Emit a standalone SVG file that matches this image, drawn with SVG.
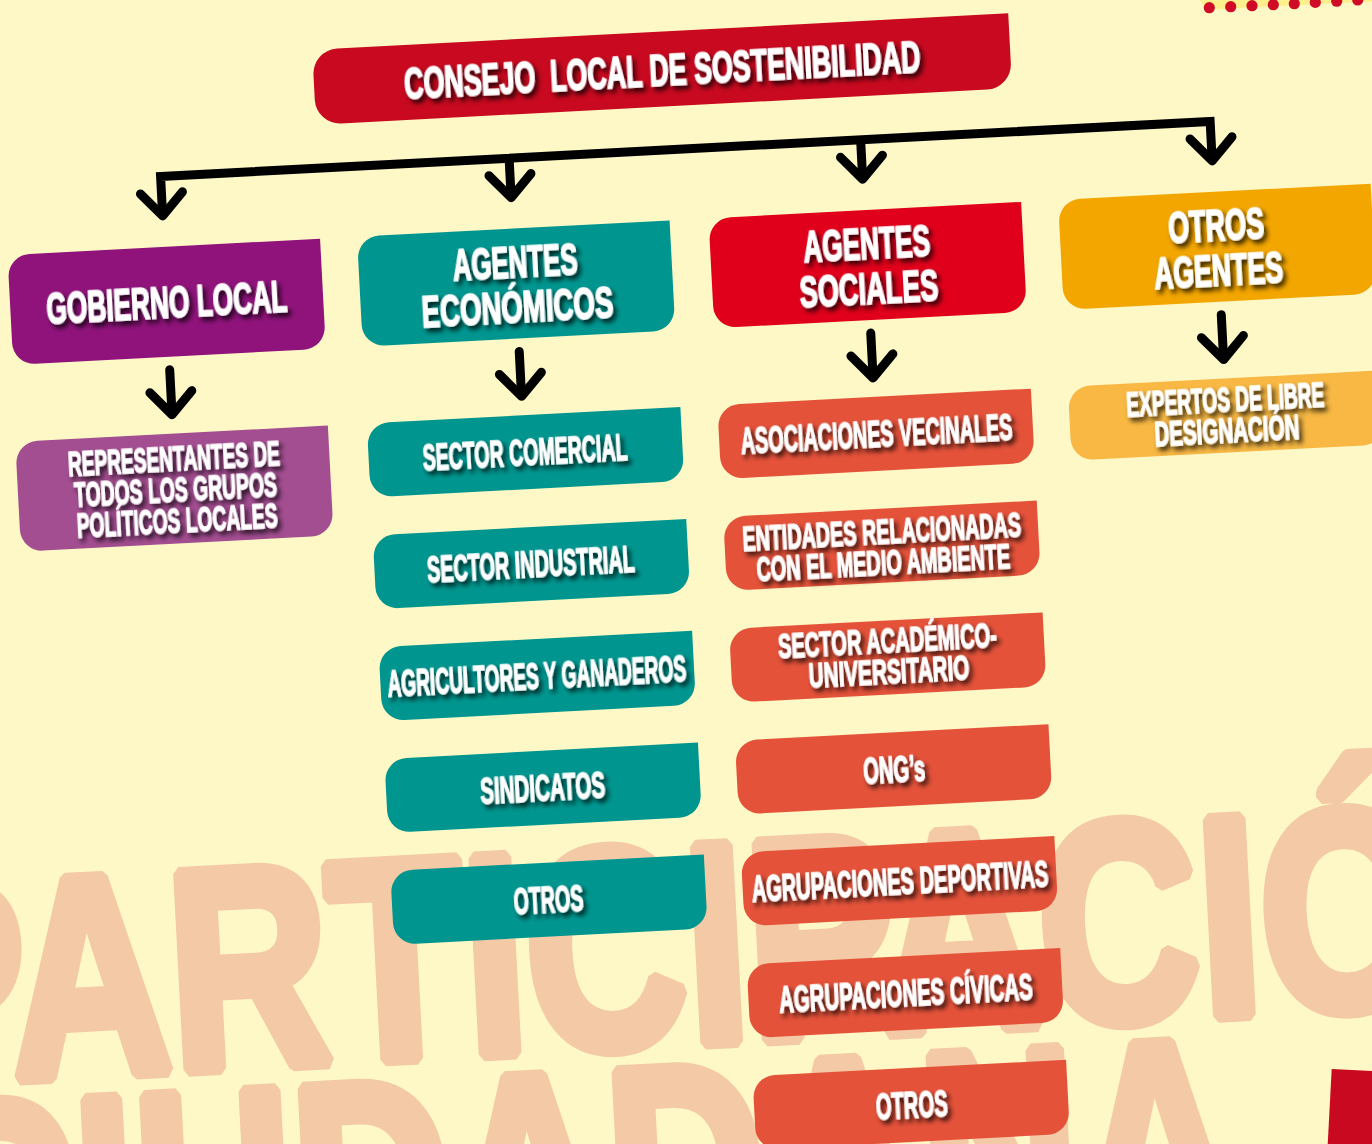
<svg xmlns="http://www.w3.org/2000/svg" xmlns:xlink="http://www.w3.org/1999/xlink" width="1372" height="1144" viewBox="0 0 1372 1144">
<style>
.t{font-family:"Liberation Sans",Arial,sans-serif;font-weight:700;fill:#fff;text-anchor:middle;stroke:#fff;stroke-width:1.3;stroke-linejoin:round;filter:url(#ts)}
.h{font-size:45px;stroke-width:1.7}
.c{font-size:36px}
.c2{font-size:35px}
.bg{font-family:"Liberation Sans",Arial,sans-serif;font-weight:700;fill:#f4c9a6;stroke:#f4c9a6;stroke-width:14;stroke-linejoin:bevel;font-size:285px}
.ln{fill:none;stroke:#000;stroke-width:9;stroke-linejoin:miter}
.ar{fill:none;stroke:#000;stroke-width:9;stroke-linecap:round;stroke-linejoin:round}
</style>
<defs>
<filter id="ts" x="-10%" y="-40%" width="130%" height="200%">
<feGaussianBlur in="SourceAlpha" stdDeviation="2.6"/>
<feOffset dx="3" dy="4" result="o"/>
<feFlood flood-color="#000" flood-opacity="0.8"/>
<feComposite in2="o" operator="in"/>
<feMerge><feMergeNode/><feMergeNode in="SourceGraphic"/></feMerge>
</filter>
<path id="hb" d="M22,0 H313 V88 A22,22 0 0 1 291,110 H22 A22,22 0 0 1 0,88 V22 A22,22 0 0 1 22,0 Z"/>
<path id="cb" d="M22,0 H314 V52 A22,22 0 0 1 292,74 H22 A22,22 0 0 1 0,52 V22 A22,22 0 0 1 22,0 Z"/>
</defs>
<rect width="1372" height="1144" fill="#fef8c7"/>
<polygon points="1200,0 1372,0 1372,1.5 1210,9.5 1203,5" fill="#fdf08c"/>
<g fill="#cf0b25">
<circle cx="1209.3" cy="7.7" r="5.6"/><circle cx="1230.7" cy="6.7" r="5.6"/><circle cx="1252" cy="5.7" r="5.6"/><circle cx="1273.3" cy="4.7" r="5.6"/><circle cx="1294.3" cy="3.7" r="5.6"/><circle cx="1315.3" cy="2.4" r="5.6"/><circle cx="1336.7" cy="1.2" r="5.6"/><circle cx="1357.7" cy="0" r="5.6"/>
</g>
<polygon points="1331.7,1069 1380,1071.5 1380,1150 1327.4,1150" fill="#c8091f"/>
<g transform="rotate(-3 686 572)">
<g id="background-text">
<text class="bg" x="-143" y="1043" textLength="1717" lengthAdjust="spacingAndGlyphs">PARTICIPACIÓN</text>
<text class="bg" x="-113" y="1264" textLength="1318" lengthAdjust="spacingAndGlyphs">CIUDADANA</text>
</g>
<g id="connectors">
<polyline class="ln" points="182,189 182,149.5 1233,149.5 1233,189"/>
<line class="ln" x1="531" y1="149.5" x2="531" y2="187"/>
<line class="ln" x1="883" y1="149.5" x2="883" y2="187"/>
<polyline class="ar" points="161,166 182,189 203,166"/>
<polyline class="ar" points="510,166 531,189 552,166"/>
<polyline class="ar" points="862,166 883,189 904,166"/>
<polyline class="ar" points="1212,166 1233,189 1254,166"/>
<line class="ar" x1="181" y1="343" x2="181" y2="386"/>
<line class="ar" x1="531" y1="343" x2="531" y2="386"/>
<line class="ar" x1="883" y1="343" x2="883" y2="386"/>
<line class="ar" x1="1234" y1="343" x2="1234" y2="386"/>
<polyline class="ar" points="160,365 181,388 202,365"/>
<polyline class="ar" points="510,365 531,388 552,365"/>
<polyline class="ar" points="862,365 883,388 904,365"/>
<polyline class="ar" points="1213,365 1234,388 1255,365"/>
</g>
<g id="consejo">
<path d="M365,31 H1037 V81 A25,25 0 0 1 1012,106 H365 A25,25 0 0 1 340,81 V56 A25,25 0 0 1 365,31 Z" fill="#c8091f"/>
<text class="t" style="font-size:44px;stroke-width:1.7" xml:space="preserve" x="688.5" y="85" textLength="517" lengthAdjust="spacingAndGlyphs">CONSEJO  LOCAL DE SOSTENIBILIDAD</text>
</g>
<g id="gobierno-local">
<use xlink:href="#hb" x="25" y="220" fill="#8f137b"/>
<text class="t h" x="181.5" y="291" textLength="241" lengthAdjust="spacingAndGlyphs">GOBIERNO LOCAL</text>
</g>
<g id="agentes-economicos">
<use xlink:href="#hb" x="375" y="220" fill="#00968f"/>
<text class="t h" x="531.5" y="269" textLength="125" lengthAdjust="spacingAndGlyphs">AGENTES</text>
<text class="t h" x="531.5" y="314" textLength="192" lengthAdjust="spacingAndGlyphs">ECONÓMICOS</text>
</g>
<g id="agentes-sociales">
<use xlink:href="#hb" x="727" y="220" fill="#e1001b"/>
<text class="t h" x="883.5" y="269" textLength="127" lengthAdjust="spacingAndGlyphs">AGENTES</text>
<text class="t h" x="883.5" y="314" textLength="139" lengthAdjust="spacingAndGlyphs">SOCIALES</text>
</g>
<g id="otros-agentes">
<use xlink:href="#hb" x="1077" y="220" fill="#f3a600"/>
<text class="t h" x="1233.5" y="269" textLength="96" lengthAdjust="spacingAndGlyphs">OTROS</text>
<text class="t h" x="1233.5" y="314" textLength="129" lengthAdjust="spacingAndGlyphs">AGENTES</text>
</g>
<g id="representantes">
<use xlink:href="#hb" x="23" y="407" fill="#a34e91"/>
<text class="t c2" x="180.5" y="444" textLength="212" lengthAdjust="spacingAndGlyphs">REPRESENTANTES DE</text>
<text class="t c2" x="180.5" y="475" textLength="203" lengthAdjust="spacingAndGlyphs">TODOS LOS GRUPOS</text>
<text class="t c2" x="180.5" y="506" textLength="201" lengthAdjust="spacingAndGlyphs">POLÍTICOS LOCALES</text>
</g>
<g id="sector-comercial">
<use xlink:href="#cb" x="375" y="407" fill="#00968f"/>
<text class="t c" x="531.5" y="457" textLength="205" lengthAdjust="spacingAndGlyphs">SECTOR COMERCIAL</text>
</g>
<g id="sector-industrial">
<use xlink:href="#cb" x="375" y="519" fill="#00968f"/>
<text class="t c" x="531.5" y="569" textLength="208" lengthAdjust="spacingAndGlyphs">SECTOR INDUSTRIAL</text>
</g>
<g id="agricultores">
<use xlink:href="#cb" x="375" y="631" fill="#00968f"/>
<text class="t c" x="531.5" y="681" textLength="299" lengthAdjust="spacingAndGlyphs">AGRICULTORES Y GANADEROS</text>
</g>
<g id="sindicatos">
<use xlink:href="#cb" x="375" y="743" fill="#00968f"/>
<text class="t c" x="531.5" y="793" textLength="125" lengthAdjust="spacingAndGlyphs">SINDICATOS</text>
</g>
<g id="otros-economicos">
<use xlink:href="#cb" x="375" y="855" fill="#00968f"/>
<text class="t c" x="531.5" y="905" textLength="70" lengthAdjust="spacingAndGlyphs">OTROS</text>
</g>
<g id="asociaciones-vecinales">
<use xlink:href="#cb" x="726" y="407" fill="#e5523a"/>
<text class="t c" x="883.5" y="457" textLength="272" lengthAdjust="spacingAndGlyphs">ASOCIACIONES VECINALES</text>
</g>
<g id="entidades-medio-ambiente">
<use xlink:href="#cb" x="726" y="519" fill="#e5523a"/>
<text class="t c2" x="883.5" y="554" textLength="279" lengthAdjust="spacingAndGlyphs">ENTIDADES RELACIONADAS</text>
<text class="t c2" x="883.5" y="585" textLength="254" lengthAdjust="spacingAndGlyphs">CON EL MEDIO AMBIENTE</text>
</g>
<g id="sector-academico">
<use xlink:href="#cb" x="726" y="631" fill="#e5523a"/>
<text class="t c2" x="883.5" y="663" textLength="219" lengthAdjust="spacingAndGlyphs">SECTOR ACADÉMICO-</text>
<text class="t c2" x="883.5" y="694" textLength="161" lengthAdjust="spacingAndGlyphs">UNIVERSITARIO</text>
</g>
<g id="ongs">
<use xlink:href="#cb" x="726" y="743" fill="#e5523a"/>
<text class="t c" x="883.5" y="793" textLength="62" lengthAdjust="spacingAndGlyphs">ONG’s</text>
</g>
<g id="agrupaciones-deportivas">
<use xlink:href="#cb" x="726" y="855" fill="#e5523a"/>
<text class="t c" x="883.5" y="905" textLength="297" lengthAdjust="spacingAndGlyphs">AGRUPACIONES DEPORTIVAS</text>
</g>
<g id="agrupaciones-civicas">
<use xlink:href="#cb" x="726" y="967" fill="#e5523a"/>
<text class="t c" x="883.5" y="1017" textLength="254" lengthAdjust="spacingAndGlyphs">AGRUPACIONES CÍVICAS</text>
</g>
<g id="otros-sociales">
<use xlink:href="#cb" x="726" y="1079" fill="#e5523a"/>
<text class="t c" x="883.5" y="1129" textLength="72" lengthAdjust="spacingAndGlyphs">OTROS</text>
</g>
<g id="expertos">
<use xlink:href="#cb" x="1077" y="407" fill="#f8b843"/>
<text class="t c2" x="1233.5" y="440" textLength="198" lengthAdjust="spacingAndGlyphs">EXPERTOS DE LIBRE</text>
<text class="t c2" x="1233.5" y="471" textLength="145" lengthAdjust="spacingAndGlyphs">DESIGNACIÓN</text>
</g>
</g>
</svg>
